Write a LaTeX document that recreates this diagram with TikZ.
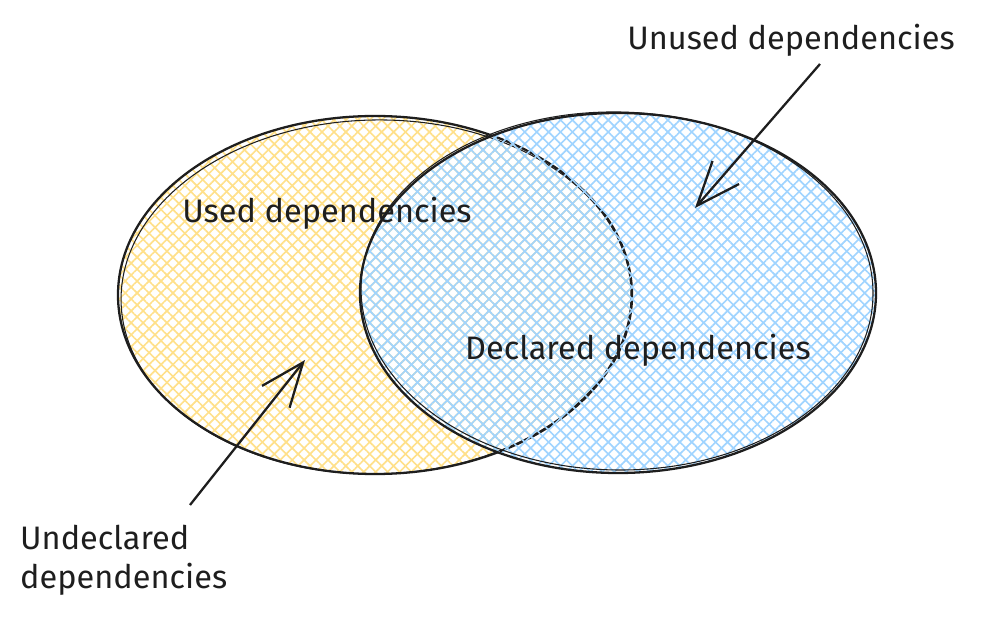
\documentclass[tikz,border=0pt]{standalone}
\usepackage{fontspec}
\setmainfont{Fira Sans}
\usetikzlibrary{arrows.meta,patterns.meta}
\definecolor{ink}{HTML}{1E1E1E}
\definecolor{usedhatch}{HTML}{FFE08A}
\definecolor{declhatch}{HTML}{A0D4FF}
\begin{document}
\begin{tikzpicture}[x=0.02cm,y=-0.02cm,
  lbl/.style={font=\fontsize{18.5}{22}\selectfont,text=ink},
  rim/.style={draw=ink,line width=1.3pt},
  rimthin/.style={draw=ink,line width=0.6pt},
  hatch/.style={pattern={Lines[angle=#1,distance=4.8pt,line width=0.95pt]}},
  pointer/.style={draw=ink,line width=1.3pt,-{Straight Barb[length=25pt,width=20pt,line width=1.3pt]}}]
\useasboundingbox(0,0)rectangle(985,621);
%
% used dependencies (yellow)
\fill[hatch=45,pattern color=usedhatch](375,295)ellipse[x radius=257,y radius=179];
\fill[hatch=-45,pattern color=usedhatch](375,295)ellipse[x radius=257,y radius=179];
\draw[rim](375,295)ellipse[x radius=257,y radius=179];
\draw[rimthin,rotate around={1:(375,295)}](376,297)ellipse[x radius=255,y radius=177];
%
% declared dependencies (blue)
\fill[hatch=45,pattern color=declhatch](618,293)ellipse[x radius=258,y radius=180];
\fill[hatch=-45,pattern color=declhatch](618,293)ellipse[x radius=258,y radius=180];
\draw[rim](618,293)ellipse[x radius=258,y radius=180];
\draw[rimthin,rotate around={-1:(618,293)}](617,291)ellipse[x radius=256,y radius=179];
%
\node[lbl](used)at(327,213){Used dependencies};
\node[lbl](declared)at(638,350){Declared dependencies};
\node[lbl](unused)at(791,40){Unused dependencies};
\node[lbl,align=left,anchor=west](undeclared)at(14,560){Undeclared\\dependencies};
%
\coordinate(unusedtail)at(820,64);
\coordinate(unusedtip)at(695,208);
\coordinate(undeclaredtail)at(190,505);
\coordinate(undeclaredtip)at(305,360);
\draw[pointer](unusedtail)--(unusedtip);
\draw[pointer](undeclaredtail)--(undeclaredtip);
\end{tikzpicture}
\end{document}
